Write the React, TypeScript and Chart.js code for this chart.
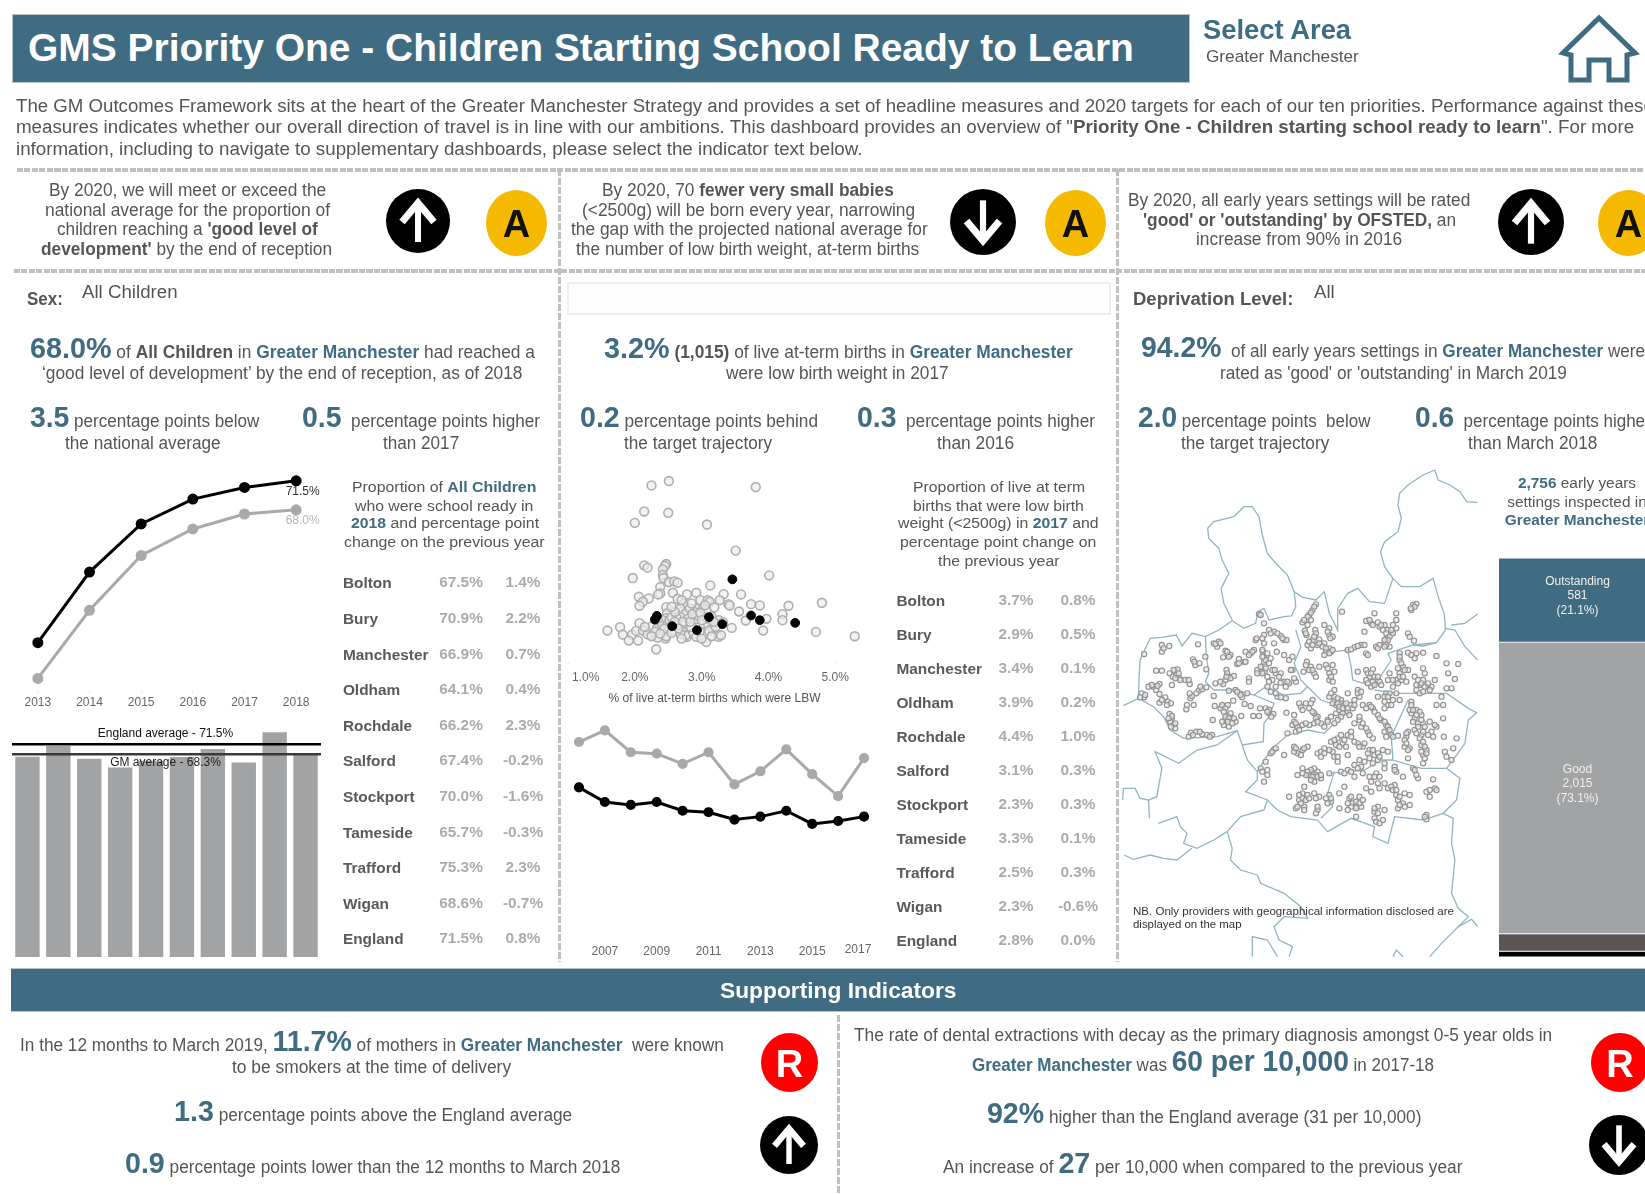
import React, { useEffect, useLayoutEffect, useRef } from "react";
import { Chart, registerables } from "chart.js";

Chart.register(...registerables);
Chart.defaults.font.family = "'Liberation Sans', Arial, sans-serif";

// ---------- colours ----------
const TEAL = "#3f6c82";
const INK = "#555555";
const SOFT = "#ababab";
const BAR = "#a2a3a5";
const MAPLINE = "#8fb5c3";

// ---------- data: school readiness ----------
const readyYears = ["2013", "2014", "2015", "2016", "2017", "2018"];
const readyEngland = [52.0, 60.5, 66.3, 69.3, 70.7, 71.5];
const readyGM = [47.7, 55.9, 62.5, 65.7, 67.5, 68.0];
const districts = ["Bolton", "Bury", "Manchester", "Oldham", "Rochdale", "Salford", "Stockport", "Tameside", "Trafford", "Wigan", "England"];
const readyValues = ["67.5%", "70.9%", "66.9%", "64.1%", "66.2%", "67.4%", "70.0%", "65.7%", "75.3%", "68.6%", "71.5%"];
const readyChanges = ["1.4%", "2.2%", "0.7%", "0.4%", "2.3%", "-0.2%", "-1.6%", "-0.3%", "2.3%", "-0.7%", "0.8%"];
const readyBars = [67.5, 70.9, 66.9, 64.1, 66.2, 67.4, 70.0, 65.7, 75.3, 68.6];
const englandAverage = 71.5;
const gmAverage = 68.3;

// ---------- data: low birth weight ----------
const lbwYears = ["2006", "2007", "2008", "2009", "2010", "2011", "2012", "2013", "2014", "2015", "2016", "2017"];
const lbwGM = [3.31, 3.39, 3.24, 3.23, 3.16, 3.24, 3.02, 3.11, 3.26, 3.09, 2.94, 3.2];
const lbwEngland = [3.0, 2.9, 2.88, 2.9, 2.84, 2.83, 2.78, 2.8, 2.84, 2.75, 2.77, 2.8];
const lbwValues = ["3.7%", "2.9%", "3.4%", "3.9%", "4.4%", "3.1%", "2.3%", "3.3%", "2.5%", "2.3%", "2.8%"];
const lbwChanges = ["0.8%", "0.5%", "0.1%", "0.2%", "1.0%", "0.3%", "0.3%", "0.1%", "0.3%", "-0.6%", "0.0%"];
const lbwTicks = [1, 2, 3, 4, 5];
const lbwDistrictPoints = [[2.3, 1.22], [2.33, 1.33], [2.56, 1.02], [2.93, 0.9], [3.11, 1.29], [3.31, 1.08], [3.46, 2.42], [3.74, 1.34], [3.87, 1.2], [4.4, 1.12]];
const lbwLocalPoints = [
  [2.25, 5.23], [2.51, 5.36], [3.81, 5.18], [2.14, 4.45], [2.5, 4.41], [2.0, 4.11], [3.08, 4.06], [3.51, 3.28], [2.14, 2.84], [2.19, 2.77],
  [2.47, 2.88], [2.45, 2.82], [2.42, 2.72], [1.97, 2.46], [2.42, 2.55], [2.43, 2.46], [2.51, 2.34], [2.59, 2.36], [2.64, 2.32], [4.01, 2.54],
  [2.38, 2.19], [3.13, 2.24], [2.38, 2.0], [2.35, 1.97], [2.57, 2.02], [2.78, 1.97], [2.92, 2.02], [3.33, 1.98], [3.59, 1.97], [2.06, 1.9],
  [2.21, 1.85], [2.12, 1.75], [2.07, 1.63], [2.64, 1.84], [2.73, 1.7], [2.98, 1.8], [3.09, 1.8], [3.12, 1.75], [3.27, 1.8], [3.19, 1.58],
  [3.4, 1.68], [3.42, 1.64], [3.74, 1.68], [3.87, 1.64], [4.3, 1.63], [4.8, 1.72], [2.47, 1.59], [2.68, 1.55], [2.92, 1.55], [2.89, 1.45],
  [3.02, 1.55], [3.07, 1.5], [3.56, 1.46], [4.21, 1.38], [3.97, 1.24], [4.21, 1.2], [3.66, 1.19], [2.48, 1.4], [2.76, 1.4], [2.68, 1.3],
  [2.62, 1.28], [2.47, 1.26], [2.41, 1.2], [2.35, 1.16], [2.07, 1.11], [1.78, 0.99], [1.59, 0.89], [1.96, 0.77], [1.82, 0.77], [1.91, 0.59],
  [2.05, 0.59], [2.02, 0.88], [2.12, 0.89], [2.19, 0.78], [2.24, 1.0], [2.33, 0.95], [2.41, 1.03], [2.49, 1.08], [2.57, 0.9], [2.71, 0.93],
  [2.76, 1.1], [2.8, 1.25], [2.9, 1.22], [3.03, 1.1], [3.1, 1.05], [3.16, 0.95], [3.26, 1.2], [3.32, 1.14], [3.45, 0.97], [3.92, 0.89],
  [4.71, 0.85], [5.29, 0.72], [2.32, 0.33], [3.07, 0.55], [2.78, 0.7], [2.76, 0.75], [2.88, 0.8], [2.97, 0.85], [3.11, 0.88], [3.25, 0.7],
  [3.29, 0.75], [2.46, 0.65], [2.34, 0.68], [2.52, 1.2], [2.63, 1.05], [2.84, 1.0], [2.94, 1.35], [2.68, 0.8], [2.52, 1.0], [3.21, 1.0],
  [3.08, 1.25], [2.82, 1.55], [2.33, 1.3], [2.47, 0.72],
  [2.55, 1.3], [2.6, 1.15], [2.72, 1.15], [2.65, 0.95], [2.83, 1.15], [2.86, 1.38], [2.98, 1.42], [3.0, 1.2], [3.15, 1.3], [3.18, 1.15], [2.44, 0.95], [2.55, 0.82], [2.3, 0.85], [2.25, 0.72], [2.38, 0.8], [2.7, 0.65], [2.92, 0.7], [3.0, 0.65], [3.15, 0.72], [2.6, 1.45], [2.55, 1.6], [2.7, 1.8], [2.85, 1.7], [3.05, 1.65], [2.15, 1.0],
];

// ---------- data: early years settings ----------
const ofstedLabels = ["Outstanding", "Good", "Requires improvement", "Inadequate"];
const ofstedCounts = [581, 2015, 120, 40];
const ofstedColours = [TEAL, BAR, "#5a5552", "#000000"];
const ofstedCaptions = [["Outstanding", "581", "(21.1%)"], ["Good", "2,015", "(73.1%)"]];

// map outlines and provider locations, in the map's own grid units
const mapOuter = [[10, 737], [55, 715], [57, 650], [60, 600], [90, 535], [125, 532], [168, 525], [185, 558], [215, 520], [255, 530], [295, 510], [335, 482], [370, 505], [405, 490], [412, 455], [430, 445], [445, 480], [490, 470], [512, 468], [525, 440], [520, 395], [545, 412], [585, 420], [610, 395], [625, 460], [650, 510], [650, 445], [680, 400], [710, 385], [745, 425], [790, 430], [815, 355], [840, 380], [895, 380], [935, 355], [950, 410], [968, 460], [972, 510], [945, 548], [905, 558], [875, 555]];
const mapSouth = [[975, 700], [1040, 745], [1065, 758], [1040, 780], [1030, 850], [1005, 885], [975, 925], [1015, 955], [1005, 1020], [965, 1060], [905, 1080], [820, 1070], [810, 1110], [800, 1150], [755, 1130], [760, 1100], [690, 1075], [620, 1115], [590, 1080], [510, 1070], [470, 1050], [440, 1020], [375, 995], [410, 960], [410, 935], [380, 900], [365, 855]];
const mapWiganBolton = [[255, 530], [258, 590], [265, 640], [255, 665], [280, 690], [340, 690], [400, 705], [435, 680], [490, 705], [540, 700], [560, 680], [600, 720], [660, 740], [680, 745]];
const mapWiganSalford = [[400, 705], [460, 730], [445, 770], [430, 790], [428, 845], [365, 855], [350, 812], [290, 830], [190, 835], [150, 810], [130, 770], [100, 740], [55, 715]];
const mapSalfordTrafford = [[410, 935], [450, 870], [500, 825], [560, 810], [610, 820], [640, 790], [680, 745]];
const mapBuryRochdale = [[525, 510], [540, 560], [520, 610], [540, 660], [560, 680]];
const mapRochdaleOldham = [[640, 575], [680, 570], [690, 620], [695, 660], [760, 680], [790, 630], [810, 600], [800, 580], [875, 555], [945, 548]];
const mapOldhamTameside = [[760, 690], [830, 700], [930, 700], [975, 700]];
const mapManchesterEast = [[860, 720], [810, 830], [815, 900], [900, 925], [975, 925]];
const mapManchesterSouth = [[620, 940], [730, 930], [780, 900], [815, 900]];
const mapStockportWest = [[640, 935], [620, 1000], [635, 1040], [600, 1075]];
const mapNorthWest = [[335, 480], [310, 430], [302, 385], [325, 340], [305, 300], [295, 265], [265, 235], [262, 205], [280, 185], [340, 170], [370, 140], [395, 140], [415, 170], [425, 225], [440, 280], [470, 315], [500, 345], [520, 395]];
const mapNorth = [[815, 355], [790, 320], [778, 275], [790, 245], [830, 215], [840, 175], [830, 135], [835, 100], [860, 75], [905, 45], [940, 30], [950, 60], [985, 75], [1015, 95], [1035, 125], [1068, 128]];
const mapEastA = [[972, 505], [1000, 510], [1030, 560], [1068, 600]];
const mapEastB = [[990, 495], [1030, 490], [1068, 462]];
const mapWestA = [[8, 1020], [10, 985], [45, 985], [60, 1015], [85, 1020], [110, 1010], [125, 925], [105, 875], [175, 910], [230, 870], [290, 855], [350, 812]];
const mapWestB = [[85, 1020], [88, 1075]];
const mapWestC = [[115, 1090], [170, 1070], [180, 1100], [200, 1120], [190, 1150], [230, 1165], [280, 1140], [320, 1115], [360, 1070], [430, 1050], [440, 1020]];
const mapWestD = [[12, 1185], [40, 1198], [90, 1185], [130, 1195], [170, 1200], [215, 1165]];
const mapCheshire = [[320, 1115], [335, 1165], [330, 1200], [360, 1230], [410, 1245], [420, 1270], [490, 1300], [540, 1340], [560, 1375], [490, 1370], [460, 1400], [475, 1440], [515, 1460], [505, 1490]];
const mapCheshireB = [[395, 1490], [395, 1430], [440, 1440], [470, 1490]];
const mapDerbyshire = [[965, 1060], [995, 1075], [990, 1150], [1000, 1200], [990, 1300], [1010, 1345], [1040, 1370], [1010, 1400], [960, 1450], [925, 1490]];
const mapDerbyshireB = [[1010, 1400], [1050, 1378], [1068, 1400]];
const mapDerbyshireC = [[815, 1490], [825, 1470], [845, 1490]];
const mapLines = [mapOuter, mapSouth, mapWiganBolton, mapWiganSalford, mapSalfordTrafford, mapBuryRochdale, mapRochdaleOldham, mapOldhamTameside, mapManchesterEast, mapManchesterSouth, mapStockportWest, mapNorthWest, mapNorth, mapEastA, mapEastB, mapWestA, mapWestB, mapWestC, mapWestD, mapCheshire, mapCheshireB, mapDerbyshire, mapDerbyshireB, mapDerbyshireC];
const mapProviders = [
  [72, 582], [125, 555], [147, 558], [125, 575], [108, 632], [125, 632], [148, 640], [165, 630], [172, 628], [168, 645], [178, 655], [195, 660], [208, 672], [218, 598], [225, 615], [237, 610], [255, 590], [258, 628], [155, 675], [118, 672], [100, 680], [85, 680], [108, 690], [118, 702], [65, 700], [72, 712], [60, 712], [135, 712], [143, 725], [152, 730], [118, 728], [210, 715], [215, 708], [220, 735], [198, 748], [235, 692], [245, 688], [258, 682], [148, 762], [155, 775], [150, 785], [160, 795], [165, 805], [205, 830], [212, 818], [228, 815], [245, 822], [260, 825], [275, 825], [277, 780],
  [233, 553], [280, 550], [295, 545], [290, 560], [315, 572], [330, 585], [308, 592], [355, 597], [372, 606], [350, 612], [375, 575], [390, 580], [400, 570], [405, 540], [430, 525], [445, 510], [460, 515], [480, 528], [490, 540], [497, 540], [415, 462], [430, 490], [427, 575], [430, 590], [430, 605], [450, 595], [460, 550], [430, 550], [468, 575], [490, 585], [505, 600], [515, 590], [425, 625], [418, 635], [410, 630], [432, 635], [455, 630], [465, 640], [480, 640], [490, 665], [505, 670], [515, 630], [525, 665], [385, 655], [318, 630], [325, 650], [340, 648], [315, 660], [308, 672], [285, 670], [440, 650], [455, 660], [480, 668],
  [280, 708], [325, 692], [345, 690], [358, 700], [365, 712], [380, 700], [338, 722], [372, 732], [390, 738], [283, 738], [305, 740], [322, 735], [300, 745], [320, 765], [330, 770], [345, 785], [315, 780], [310, 795], [325, 800], [362, 768], [398, 768], [415, 768], [418, 745], [435, 745], [445, 760], [458, 762], [440, 680], [450, 695], [470, 710], [495, 715], [497, 758],
  [585, 433], [575, 450], [565, 465], [545, 487], [570, 480], [552, 512], [583, 510], [557, 525], [610, 495], [625, 505], [625, 525], [635, 530], [575, 540], [595, 538], [560, 555], [570, 565], [590, 555], [610, 550], [625, 565], [615, 575], [630, 575], [558, 605], [570, 620], [580, 640], [595, 620], [548, 635], [615, 615], [635, 615], [625, 640], [640, 635], [625, 660], [640, 690], [625, 710], [640, 720], [660, 720],
  [663, 455], [760, 460], [735, 483], [750, 490], [770, 487], [775, 500], [730, 515], [790, 495], [800, 510], [825, 460], [825, 480], [825, 505], [810, 520], [795, 535], [790, 550], [815, 520], [860, 520], [878, 542], [875, 435], [885, 432], [870, 450], [680, 570], [700, 562], [720, 555], [735, 580], [765, 560], [775, 555], [805, 560],
  [835, 580], [860, 578], [885, 580], [905, 578], [945, 588], [975, 610], [1010, 612], [980, 640], [1000, 657], [940, 660], [835, 600], [845, 620], [835, 640], [860, 630], [905, 625], [880, 650], [905, 660], [895, 675], [920, 680], [930, 680], [885, 690], [895, 700], [990, 685], [975, 685], [960, 710], [945, 735], [965, 735], [710, 635], [735, 630], [755, 628], [745, 650], [765, 660], [775, 665], [735, 660], [750, 680], [805, 640], [825, 660], [840, 660], [815, 680], [855, 665], [795, 700], [815, 720], [835, 720], [825, 700], [800, 735], [790, 745], [870, 725],
  [520, 765], [540, 740], [555, 730], [575, 720], [565, 745], [580, 760], [590, 770], [600, 790], [520, 785], [530, 800], [545, 795], [565, 795], [580, 790], [500, 820], [525, 815], [620, 780], [630, 770], [645, 760], [655, 750], [660, 730], [670, 735], [690, 735], [640, 710], [665, 760], [680, 755], [695, 745], [700, 720], [715, 710], [710, 690], [680, 700], [725, 735], [745, 735], [755, 745], [770, 710], [790, 710], [770, 765], [780, 780], [795, 795], [800, 815], [810, 825], [830, 827], [715, 780], [720, 800], [740, 815], [755, 835], [650, 835], [665, 850], [680, 825], [690, 830], [645, 855], [630, 845], [610, 800], [620, 785],
  [870, 760], [885, 750], [900, 765], [880, 775], [890, 790], [905, 790], [880, 810], [900, 825], [925, 785], [935, 830], [945, 800], [930, 815], [965, 775], [967, 830], [1005, 835], [995, 865], [970, 875], [975, 890], [990, 900], [855, 830], [860, 815], [850, 860], [865, 865], [900, 855], [915, 870], [905, 885], [905, 910], [860, 895],
  [460, 868], [450, 880], [435, 905], [420, 925], [440, 945], [430, 965], [490, 885], [520, 860], [530, 880], [545, 870], [560, 860], [590, 880], [610, 865], [600, 890], [635, 875], [650, 905], [680, 885], [710, 850], [725, 860], [745, 870], [760, 885], [770, 900], [715, 900], [700, 915], [680, 930], [660, 935], [790, 910], [820, 920], [825, 935], [785, 870], [800, 875], [875, 925], [890, 955], [845, 950], [935, 958], [765, 940], [745, 950], [725, 940], [700, 950], [575, 940], [590, 935], [565, 945], [545, 925], [530, 945], [600, 955], [625, 940], [580, 965], [550, 980],
  [505, 1010], [545, 1000], [560, 1005], [535, 1020], [580, 1000], [595, 1010], [625, 1005], [630, 1025], [525, 1045], [550, 1040], [590, 1050], [620, 1030], [655, 1000], [655, 1045], [685, 1015], [695, 1030], [715, 1010], [720, 1040], [690, 1040], [735, 985], [750, 995], [775, 985], [770, 970], [800, 985], [820, 975], [825, 1005], [830, 1020], [850, 1000], [865, 1005], [845, 1030], [865, 1035], [830, 1045], [770, 1040], [760, 1055], [790, 1050], [760, 1075], [785, 1080], [705, 1070], [915, 995], [925, 1010], [940, 985], [915, 1065], [915, 1078], [670, 980],
  [160, 630], [175, 640], [158, 650], [180, 660], [240, 680], [228, 700], [112, 678], [95, 675], [75, 705], [125, 720], [140, 735], [155, 768], [145, 775], [165, 790], [152, 800], [218, 825], [238, 815], [268, 830], [208, 700], [200, 735], [130, 565], [222, 605], [165, 655], [205, 660],
  [285, 552], [300, 550], [320, 575], [325, 590], [355, 610], [375, 605], [395, 575], [385, 585], [408, 535], [425, 535], [450, 520], [470, 520], [485, 535], [420, 465], [435, 600], [425, 590], [440, 580], [445, 610], [420, 620], [435, 625], [425, 640], [410, 640], [462, 630], [475, 650], [500, 665], [520, 655], [510, 630], [495, 680], [320, 640], [330, 655], [318, 650], [300, 665], [385, 665], [445, 665], [465, 680], [425, 570],
  [305, 735], [315, 745], [315, 770], [325, 775], [340, 775], [322, 785], [335, 790], [305, 785], [330, 760], [310, 755], [360, 705], [350, 695], [445, 750], [452, 770], [440, 755], [465, 700], [480, 712],
  [580, 440], [570, 458], [560, 470], [550, 480], [560, 495], [555, 520], [585, 520], [620, 515], [628, 535], [565, 545], [575, 555], [580, 530], [595, 550], [605, 560], [615, 565], [625, 580], [635, 570], [610, 585], [555, 615], [565, 630], [575, 630], [585, 650], [620, 625], [630, 650], [635, 665], [630, 700], [650, 715], [645, 735], [635, 730],
  [745, 480], [755, 495], [780, 495], [785, 510], [795, 520], [805, 530], [800, 540], [790, 540], [810, 510], [815, 495], [880, 440], [868, 445], [865, 530], [690, 568], [710, 558], [730, 555], [740, 585], [770, 565], [795, 555], [790, 560],
  [835, 590], [840, 610], [830, 625], [850, 630], [835, 650], [845, 650], [870, 585], [880, 595], [910, 640], [890, 660], [900, 670], [885, 675], [910, 680], [920, 670], [925, 690], [905, 695], [740, 640], [750, 640], [760, 650], [770, 650], [755, 665], [760, 675], [780, 675], [740, 670], [800, 660], [815, 660], [830, 670], [805, 700], [800, 710], [790, 725], [810, 735], [870, 735], [865, 750],
  [535, 730], [545, 750], [570, 730], [575, 755], [585, 775], [590, 785], [515, 795], [525, 790], [535, 810], [555, 790], [650, 730], [655, 740], [665, 745], [675, 730], [680, 745], [660, 770], [650, 780], [640, 790], [685, 765], [700, 735], [710, 700], [720, 695], [735, 745], [750, 740], [760, 755], [775, 775], [790, 785], [800, 800], [790, 815], [805, 810], [795, 830], [815, 830], [715, 770], [725, 790], [735, 805], [745, 825], [700, 790], [660, 825], [670, 840], [655, 860], [640, 840], [675, 860], [690, 815], [700, 845], [715, 860], [730, 850], [740, 880], [755, 870], [770, 880], [775, 890],
  [875, 750], [895, 755], [885, 765], [875, 785], [890, 800], [900, 780], [910, 800], [885, 820], [895, 835], [905, 815], [920, 825], [940, 795], [855, 820], [850, 840], [855, 850], [860, 870], [905, 845], [910, 860], [900, 875], [915, 880], [910, 895],
  [580, 925], [570, 930], [585, 945], [575, 950], [560, 935], [590, 950], [570, 960], [555, 945], [600, 945], [545, 940], [535, 1005], [545, 1015], [555, 1020], [540, 1030], [565, 1015], [550, 1050], [530, 1040], [585, 1015], [590, 1040], [585, 1060], [615, 1015], [630, 1015], [690, 1010], [680, 1030], [705, 1025], [715, 1030], [705, 1040], [725, 1020], [705, 1045], [680, 1050], [760, 1045], [770, 1060], [765, 1085], [775, 1090], [810, 980], [815, 990], [825, 990], [835, 1010], [850, 1040], [835, 1035], [925, 990], [945, 990], [910, 1070], [720, 920], [710, 925], [690, 935], [670, 940], [730, 905], [745, 895], [755, 910], [790, 925], [820, 930], [880, 930], [885, 945], [760, 950], [750, 965], [775, 950], [790, 970], [440, 930], [425, 935], [455, 875], [465, 865], [520, 875], [525, 865], [540, 885], [550, 865], [600, 875], [610, 880], [640, 890], [625, 870], [650, 890],
];

const toXY = (pts) => pts.map(([x, y]) => ({ x, y }));

// ---------- chart configs ----------
const quiet = { legend: { display: false }, tooltip: { enabled: false }, title: { display: false } };
const base = { responsive: false, animation: false, devicePixelRatio: 1, layout: { padding: 0, autoPadding: false } };
const tickFont = { size: 12 };

const readyLineConfig = {
  type: "line",
  data: {
    labels: readyYears,
    datasets: [
      { data: readyEngland, borderColor: "#000", backgroundColor: "#000", borderWidth: 3, pointRadius: 4, tension: 0 },
      { data: readyGM, borderColor: "#a9a9a9", backgroundColor: "#a9a9a9", borderWidth: 3, pointRadius: 4, tension: 0 },
    ],
  },
  options: {
    ...base,
    plugins: quiet,
    scales: {
      x: {
        offset: true,
        grid: { drawOnChartArea: false, color: "#ececec", tickLength: 3 },
        border: { display: false },
        ticks: { font: tickFont, color: "#666", maxRotation: 0, padding: 2 },
        afterFit: (s) => { s.height = 24; },
      },
      y: { display: false, min: 46.3, max: 72.8 },
    },
  },
  plugins: [{
    id: "endLabels",
    afterDatasetsDraw(chart) {
      const { ctx, scales } = chart;
      const px = scales.x.getPixelForValue(5) + 6.5;
      ctx.save();
      ctx.font = "12px 'Liberation Sans'";
      ctx.textAlign = "center";
      ctx.textBaseline = "middle";
      ctx.fillStyle = "#333";
      ctx.fillText(readyEngland[5].toFixed(1) + "%", px, scales.y.getPixelForValue(readyEngland[5]) + 11);
      ctx.fillStyle = "#b5b5b5";
      ctx.fillText(readyGM[5].toFixed(1) + "%", px, scales.y.getPixelForValue(readyGM[5]) + 11);
      ctx.restore();
    },
  }],
};

const readyBarConfig = {
  type: "bar",
  data: {
    labels: districts.slice(0, 10),
    datasets: [
      { type: "line", data: [{ x: 0, y: englandAverage }, { x: 1, y: englandAverage }], xAxisID: "x2", borderColor: "#000", borderWidth: 2.5, pointRadius: 0, order: 0 },
      { type: "line", data: [{ x: 0, y: gmAverage }, { x: 1, y: gmAverage }], xAxisID: "x2", borderColor: "#3a3a3a", borderWidth: 2.5, pointRadius: 0, order: 0 },
      { type: "bar", data: readyBars, backgroundColor: BAR, barPercentage: 0.79, categoryPercentage: 1, grouped: false, order: 1 },
    ],
  },
  options: {
    ...base,
    plugins: quiet,
    scales: {
      x: { display: false },
      x2: { type: "linear", display: false, offset: false, min: 0, max: 1 },
      y: { display: false, min: 3.6, max: 77 },
    },
  },
  plugins: [{
    id: "avgLabels",
    afterDatasetsDraw(chart) {
      const { ctx, scales, chartArea } = chart;
      const cx = (chartArea.left + chartArea.right) / 2 - 1;
      ctx.save();
      ctx.font = "12px 'Liberation Sans'";
      ctx.textAlign = "center";
      ctx.textBaseline = "middle";
      ctx.fillStyle = "#111";
      ctx.fillText(`England average - ${englandAverage}%`, cx, scales.y.getPixelForValue(englandAverage) - 11);
      ctx.fillStyle = "#222";
      ctx.fillText(`GM average - ${gmAverage}%`, cx, scales.y.getPixelForValue(gmAverage) + 8.5);
      ctx.restore();
    },
  }],
};

const lbwScatterConfig = {
  type: "scatter",
  data: {
    datasets: [
      { data: toXY(lbwDistrictPoints), backgroundColor: "#000", borderColor: "#000", pointRadius: 4.4, pointBorderWidth: 1 },
      { data: toXY(lbwLocalPoints), backgroundColor: "rgba(235,235,235,0.7)", borderColor: "#aeaeae", pointRadius: 4.4, pointBorderWidth: 1.6 },
    ],
  },
  options: {
    ...base,
    plugins: quiet,
    scales: {
      x: {
        type: "linear",
        min: 0.97,
        max: 5.415,
        grid: { drawOnChartArea: false, color: "#ececec", tickLength: 3 },
        border: { display: false },
        afterBuildTicks: (s) => { s.ticks = lbwTicks.map((value) => ({ value })); },
        ticks: { font: tickFont, color: "#666", maxRotation: 0, padding: 5, callback: (v) => (v === 1 ? "" : Number(v).toFixed(1) + "%") },
        title: { display: true, text: "% of live at-term births which were LBW", font: tickFont, color: "#555", padding: { top: 3, bottom: 0 } },
        afterFit: (s) => { s.height = 44; },
      },
      y: { display: false, min: -0.05, max: 5.6 },
    },
  },
  plugins: [{
    id: "firstTick",
    afterDraw(chart) {
      const { ctx, scales } = chart;
      ctx.save();
      ctx.font = "12px 'Liberation Sans'";
      ctx.textAlign = "left";
      ctx.textBaseline = "top";
      ctx.fillStyle = "#666";
      ctx.fillText("1.0%", scales.x.getPixelForValue(1) + 4, scales.x.top + 10);
      ctx.restore();
    },
  }],
};

const lbwLineConfig = {
  type: "line",
  data: {
    labels: lbwYears,
    datasets: [
      { data: lbwEngland, borderColor: "#000", backgroundColor: "#000", borderWidth: 3, pointRadius: 3.6, tension: 0 },
      { data: lbwGM, borderColor: "#a9a9a9", backgroundColor: "#a9a9a9", borderWidth: 3, pointRadius: 3.6, tension: 0 },
    ],
  },
  options: {
    ...base,
    plugins: quiet,
    scales: {
      x: {
        offset: true,
        grid: { display: false, tickLength: 0 },
        border: { display: false },
        ticks: { font: tickFont, color: "#666", maxRotation: 0, autoSkip: false, padding: 7, callback: (_v, i) => (i % 2 === 1 && i < 11 ? lbwYears[i] : "") },
        afterFit: (s) => { s.height = 26; },
      },
      y: { display: false, min: 1.977, max: 3.44 },
    },
  },
  plugins: [{
    id: "lastTick",
    afterDraw(chart) {
      const { ctx, scales } = chart;
      ctx.save();
      ctx.font = "12px 'Liberation Sans'";
      ctx.textAlign = "center";
      ctx.textBaseline = "top";
      ctx.fillStyle = "#666";
      ctx.fillText(lbwYears[11], scales.x.getPixelForValue(11) - 6, scales.x.top + 7);
      ctx.restore();
    },
  }],
};

const mapConfig = {
  type: "scatter",
  data: {
    datasets: [
      { data: toXY(mapProviders), backgroundColor: "rgba(235,235,235,0.7)", borderColor: "#949494", pointRadius: 2.6, pointBorderWidth: 1.2 },
      ...mapLines.map((line) => ({ data: toXY(line), showLine: true, borderColor: MAPLINE, borderWidth: 1.3, pointRadius: 0, tension: 0 })),
    ],
  },
  options: {
    ...base,
    plugins: quiet,
    scales: {
      x: { type: "linear", display: false, min: 0, max: 1069 },
      y: { type: "linear", display: false, reverse: true, min: 0, max: 1491 },
    },
  },
};

const ofstedConfig = {
  type: "bar",
  data: {
    labels: ["Settings"],
    datasets: ofstedLabels.map((label, i) => ({
      label,
      data: [ofstedCounts[i]],
      backgroundColor: ofstedColours[i],
      borderColor: "#fff",
      borderWidth: { top: 0.8, bottom: 0.8, left: 0, right: 0 },
      borderSkipped: false,
      barPercentage: 1,
      categoryPercentage: 1,
      stack: "a",
    })),
  },
  options: {
    ...base,
    plugins: quiet,
    scales: {
      x: { display: false, stacked: true },
      y: { display: false, stacked: true, reverse: true, min: 0, max: ofstedCounts.reduce((a, b) => a + b, 0) },
    },
  },
  plugins: [{
    id: "barCaptions",
    afterDatasetsDraw(chart) {
      const { ctx, scales } = chart;
      const cx = (scales.x.left + scales.x.right) / 2;
      ctx.save();
      ctx.font = "12px 'Liberation Sans'";
      ctx.textAlign = "center";
      ctx.textBaseline = "middle";
      ctx.fillStyle = "#f0f0f0";
      let start = 0;
      ofstedCaptions.forEach((lines, i) => {
        const mid = scales.y.getPixelForValue(start + ofstedCounts[i] / 2) - 4;
        lines.forEach((t, j) => ctx.fillText(t, cx, mid + (j - 1) * 14.7));
        start += ofstedCounts[i];
      });
      ctx.restore();
    },
  }],
};

// ---------- building blocks ----------
function ChartBox({ x, y, w, h, config }) {
  const ref = useRef(null);
  useEffect(() => {
    const chart = new Chart(ref.current, config);
    return () => chart.destroy();
  }, [config]);
  return <canvas ref={ref} width={w} height={h} style={{ position: "absolute", left: x, top: y, width: w, height: h, display: "block" }} />;
}

function T({ x, y, w, a = "l", s = 17.5, b = false, c = INK, children }) {
  const ref = useRef(null);
  const shift = a === "c" ? "translateX(-50%) " : a === "r" ? "translateX(-100%) " : "";
  useLayoutEffect(() => {
    const el = ref.current;
    if (w && el.offsetWidth > 0) el.style.transform = `${shift}scaleX(${w / el.offsetWidth})`;
  });
  return (
    <div ref={ref} style={{ position: "absolute", left: x, top: y, fontSize: s, fontWeight: b ? 700 : 400, color: c, whiteSpace: "pre", lineHeight: 0, transformOrigin: "left center", transform: shift || undefined }}>
      {children}
    </div>
  );
}
const Big = ({ children }) => <span style={{ fontSize: 29, fontWeight: 700, color: TEAL }}>{children}</span>;
const Tl = ({ children }) => <span style={{ fontWeight: 700, color: TEAL }}>{children}</span>;
const Bd = ({ children }) => <span style={{ fontWeight: 700 }}>{children}</span>;

function Arrow({ cx, cy, r, down = false }) {
  return (
    <svg style={{ position: "absolute", left: cx - r, top: cy - r }} width={r * 2} height={r * 2} viewBox="-32 -32 64 64">
      <circle r="32" fill="#000" />
      <g transform={down ? "rotate(180)" : undefined} stroke="#fff" fill="none">
        <path d="M0,-17 L0,21" strokeWidth="6" />
        <path d="M-16,1 L0,-18 L16,1" strokeWidth="7" />
      </g>
    </svg>
  );
}
function Badge({ cx, cy, rx, ry, fill, letter, ink }) {
  return (
    <svg style={{ position: "absolute", left: cx - rx, top: cy - ry }} width={rx * 2} height={ry * 2}>
      <ellipse cx={rx} cy={ry} rx={rx} ry={ry} fill={fill} />
      <text x={rx} y={ry + 14} textAnchor="middle" fontSize="38" fontWeight="700" fill={ink} fontFamily="'Liberation Sans'">{letter}</text>
    </svg>
  );
}
const HDash = ({ x, y }) => (
  <div style={{ position: "absolute", left: x, top: y, right: 0, height: 4, background: "repeating-linear-gradient(90deg,#c0c0c0 0 6px,transparent 6px 7.5px)" }} />
);
const VDash = ({ x, y, h }) => (
  <div style={{ position: "absolute", left: x, top: y, width: 3, height: h, background: "repeating-linear-gradient(180deg,#c0c0c0 0 7px,transparent 7px 9px)" }} />
);

function DataTable({ top, step, nameX, valX, chgX, values, changes }) {
  return (
    <>
      {districts.map((name, i) => (
        <React.Fragment key={name}>
          <T x={nameX} y={top + i * step} s={15.4} b c="#5a5a5a">{name}</T>
          <T x={valX} y={top + i * step - 1} s={15.4} a="c" b c={SOFT}>{values[i]}</T>
          <T x={chgX} y={top + i * step - 1} s={15.4} a="c" b c={SOFT}>{changes[i]}</T>
        </React.Fragment>
      ))}
    </>
  );
}

export default function App() {
  return (
    <div style={{ position: "absolute", left: 0, top: 0, width: 1645, height: 1194, overflow: "hidden", background: "#fff", fontFamily: "'Liberation Sans', Arial, sans-serif" }}>
      <div style={{ position: "absolute", inset: 0, filter: "blur(0.45px)" }}>
        {/* header */}
        <div style={{ position: "absolute", left: 11.5, top: 14, width: 1178, height: 69, background: TEAL, boxSizing: "border-box", border: "1px solid #b9c4ca" }} />
        <T x={27.5} y={48} w={1106} s={38} b c="#fff">GMS Priority One - Children Starting School Ready to Learn</T>
        <T x={1202.6} y={30} w={148} s={27} b c={TEAL}>Select Area</T>
        <T x={1205.8} y={56.5} w={152.6} s={17}>Greater Manchester</T>
        <svg style={{ position: "absolute", left: 1555, top: 12, width: 90, height: 76 }} viewBox="1555 12 90 76">
          <path d="M1571,80 L1571,55 L1563,53 L1599,18 L1635,53 L1627,55 L1627,80 L1609,80 L1609,60 L1589,60 L1589,80 Z" fill="none" stroke={TEAL} strokeWidth="5" strokeLinejoin="miter" />
        </svg>

        {/* intro */}
        <T x={16} y={105.5} w={1638} s={18}>The GM Outcomes Framework sits at the heart of the Greater Manchester Strategy and provides a set of headline measures and 2020 targets for each of our ten priorities. Performance against these</T>
        <T x={16} y={127} w={1618} s={18}>measures indicates whether our overall direction of travel is in line with our ambitions. This dashboard provides an overview of "<Bd>Priority One - Children starting school ready to learn</Bd>". For more</T>
        <T x={16} y={149} w={847} s={18}>information, including to navigate to supplementary dashboards, please select the indicator text below.</T>

        {/* dashed frame */}
        <HDash x={17} y={167.5} />
        <HDash x={14} y={268.5} />
        <VDash x={558} y={169} h={793} />
        <VDash x={1116} y={169} h={793} />

        {/* indicator statements */}
        <T x={48.7} y={190} w={277}>By 2020, we will meet or exceed the</T>
        <T x={44.5} y={210} w={285}>national average for the proportion of</T>
        <T x={56.6} y={229} w={261}>children reaching a <Bd>'good level of</Bd></T>
        <T x={40.8} y={249} w={291}><Bd>development'</Bd> by the end of reception</T>
        <Arrow cx={418} cy={221} r={32} />
        <Badge cx={516} cy={222.5} rx={30.5} ry={33} fill="#f5ba00" ink="#111" letter="A" />

        <T x={602} y={190} w={292}>By 2020, 70 <Bd>fewer very small babies</Bd></T>
        <T x={582} y={210} w={333}>(&lt;2500g) will be born every year, narrowing</T>
        <T x={570.7} y={229} w={356.7}>the gap with the projected national average for</T>
        <T x={576} y={249} w={343}>the number of low birth weight, at-term births</T>
        <Arrow cx={982.5} cy={221.5} r={33} down />
        <Badge cx={1075} cy={222.5} rx={30.5} ry={33} fill="#f5ba00" ink="#111" letter="A" />

        <T x={1128} y={200} w={342}>By 2020, all early years settings will be rated</T>
        <T x={1142.6} y={220} w={313}><Bd>'good' or 'outstanding' by OFSTED,</Bd> an</T>
        <T x={1196} y={239} w={206}>increase from 90% in 2016</T>
        <Arrow cx={1531} cy={221.5} r={33} />
        <Badge cx={1628} cy={222.5} rx={30.5} ry={33} fill="#f5ba00" ink="#111" letter="A" />

        {/* filters */}
        <T x={26.5} y={299} w={36} b>Sex:</T>
        <T x={82} y={292.3} w={95}>All Children</T>
        <div style={{ position: "absolute", left: 566.5, top: 281.5, width: 544, height: 33.5, boxSizing: "border-box", border: "2px solid #eeeeee", background: "#fdfdfd" }} />
        <T x={1133} y={299} w={160.7} b>Deprivation Level:</T>
        <T x={1313.7} y={292.3} w={20.3}>All</T>

        {/* headlines */}
        <T x={30} y={347.5} w={504.7}><Big>68.0%</Big> of <Bd>All Children</Bd> in <Tl>Greater Manchester</Tl> had reached a</T>
        <T x={42.4} y={373.3} w={480.6}>‘good level of development’ by the end of reception, as of 2018</T>
        <T x={30} y={417} w={229.4}><Big>3.5</Big> percentage points below</T>
        <T x={65} y={443.3} w={156}>the national average</T>
        <T x={301.7} y={417} w={238.3}><Big>0.5</Big>  percentage points higher</T>
        <T x={382.7} y={443.3} w={76.3}>than 2017</T>

        <T x={603.5} y={347.5} w={469}><Big>3.2%</Big> <Bd>(1,015)</Bd> of live at-term births in <Tl>Greater Manchester</Tl></T>
        <T x={726} y={373.3} w={223}>were low birth weight in 2017</T>
        <T x={579.7} y={417} w={238.3}><Big>0.2</Big> percentage points behind</T>
        <T x={623.6} y={443.3} w={148.3}>the target trajectory</T>
        <T x={856.8} y={417} w={238.2}><Big>0.3</Big>  percentage points higher</T>
        <T x={937.4} y={443.3} w={77.3}>than 2016</T>

        <T x={1141} y={346.5} w={504}><Big>94.2%</Big>  of all early years settings in <Tl>Greater Manchester</Tl> were</T>
        <T x={1220} y={373.3} w={347}>rated as 'good' or 'outstanding' in March 2019</T>
        <T x={1138.4} y={417} w={232.6}><Big>2.0</Big> percentage points  below</T>
        <T x={1180.5} y={443.3} w={148.5}>the target trajectory</T>
        <T x={1414.7} y={417} w={236}><Big>0.6</Big>  percentage points higher</T>
        <T x={1468} y={443.3} w={129}>than March 2018</T>

        {/* column 1 charts and table */}
        <ChartBox x={12} y={470} w={310} h={244} config={readyLineConfig} />
        <ChartBox x={12} y={727} w={309} h={230} config={readyBarConfig} />
        <T x={351.8} y={486.7} w={184.6} s={15.4}>Proportion of <Tl>All Children</Tl></T>
        <T x={354.6} y={505.7} w={178.6} s={15.4}>who were school ready in</T>
        <T x={350.7} y={523.3} w={187.9} s={15.4}><Tl>2018</Tl> and percentage point</T>
        <T x={343.6} y={541.7} w={200.4} s={15.4}>change on the previous year</T>
        <DataTable top={583.3} step={35.6} nameX={342.9} valX={461} chgX={523} values={readyValues} changes={readyChanges} />

        {/* column 2 charts and table */}
        <ChartBox x={563} y={473} w={300} h={233} config={lbwScatterConfig} />
        <ChartBox x={566} y={723} w={311} h={240} config={lbwLineConfig} />
        <T x={912.5} y={486.7} w={172.5} s={15.4}>Proportion of live at term</T>
        <T x={913.2} y={505.7} w={171} s={15.4}>births that were low birth</T>
        <T x={898.2} y={523.3} w={201} s={15.4}>weight (&lt;2500g) in <Tl>2017</Tl> and</T>
        <T x={900.4} y={541.7} w={196.5} s={15.4}>percentage point change on</T>
        <T x={937.9} y={560.7} w={121.4} s={15.4}>the previous year</T>
        <DataTable top={601.3} step={33.94} nameX={896.4} valX={1016} chgX={1078} values={lbwValues} changes={lbwChanges} />

        {/* column 3 map and stacked bar */}
        <ChartBox x={1120} y={460} w={358} h={497} config={mapConfig} />
        <T x={1133.4} y={910.7} w={320.6} s={11} c="#333">NB. Only providers with geographical information disclosed are</T>
        <T x={1133.4} y={924} w={109} s={11} c="#333">displayed on the map</T>
        <T x={1577} y={482.7} s={15.4} a="c"><Tl>2,756</Tl> early years</T>
        <T x={1577} y={501.7} s={15.4} a="c">settings inspected in</T>
        <T x={1577} y={520} s={15.4} a="c"><Tl>Greater Manchester</Tl></T>
        <ChartBox x={1499} y={558} w={157} h={399} config={ofstedConfig} />

        {/* supporting indicators */}
        <div style={{ position: "absolute", left: 10.5, top: 968, right: 0, height: 44, background: TEAL, boxSizing: "border-box", borderTop: "1.5px solid #b9c4ca", borderBottom: "1.5px solid #b9c4ca" }} />
        <T x={720} y={990.5} w={237} s={22} b c="#fff">Supporting Indicators</T>
        <VDash x={837} y={1015} h={179} />

        <T x={20} y={1041} w={704}>In the 12 months to March 2019, <Big>11.7%</Big> of mothers in <Tl>Greater Manchester</Tl>  were known</T>
        <T x={232} y={1067} w={279}>to be smokers at the time of delivery</T>
        <T x={174} y={1111} w={398}><Big>1.3</Big> percentage points above the England average</T>
        <T x={125} y={1163} w={495}><Big>0.9</Big> percentage points lower than the 12 months to March 2018</T>
        <Badge cx={789} cy={1062.5} rx={28.5} ry={29.5} fill="#ff0000" ink="#fff" letter="R" />
        <Arrow cx={789} cy={1145} r={29} />

        <T x={854} y={1035} w={698}>The rate of dental extractions with decay as the primary diagnosis amongst 0-5 year olds in</T>
        <T x={972} y={1061} w={462}><Tl>Greater Manchester</Tl> was <Big>60 per 10,000</Big> in 2017-18</T>
        <T x={987} y={1113} w={434}><Big>92%</Big> higher than the England average (31 per 10,000)</T>
        <T x={943} y={1163} w={519}>An increase of <Big>27</Big> per 10,000 when compared to the previous year</T>
        <Badge cx={1620} cy={1062.5} rx={29} ry={29.5} fill="#ff0000" ink="#fff" letter="R" />
        <Arrow cx={1619} cy={1145} r={30} down />
      </div>
    </div>
  );
}
